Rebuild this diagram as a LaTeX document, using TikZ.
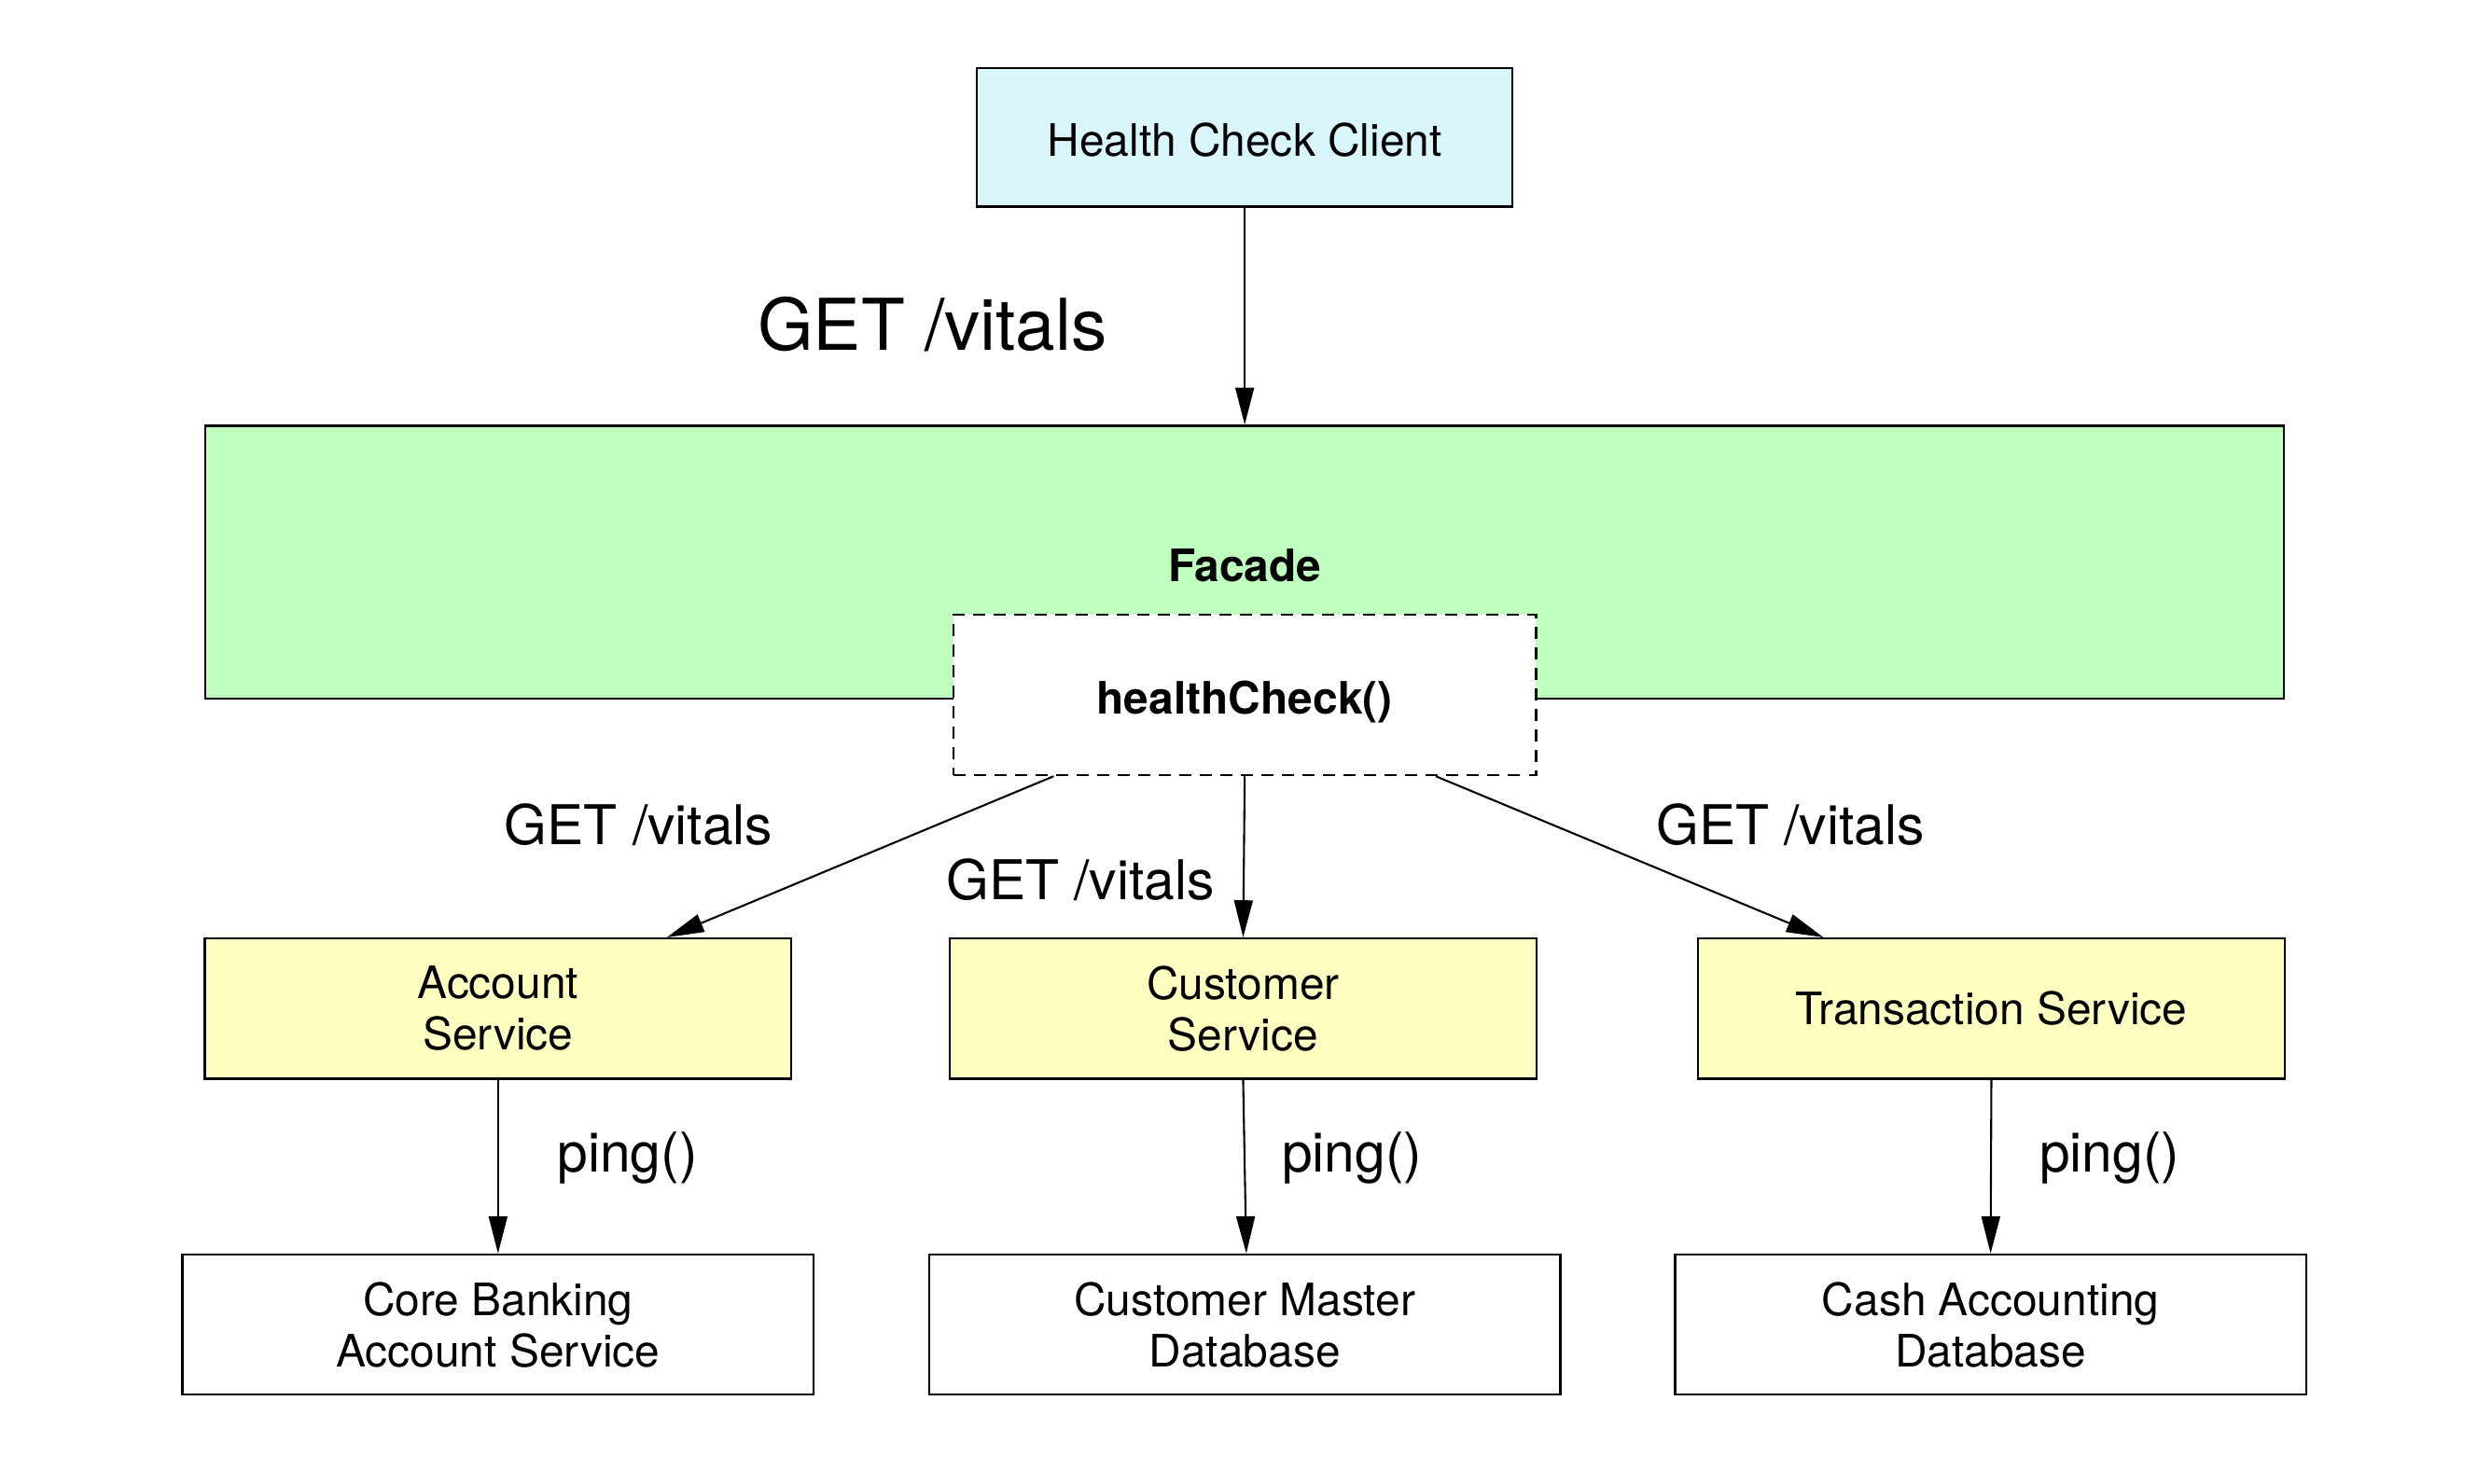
\documentclass[tikz,border=0pt]{standalone}
\usepackage{fontspec}
\setmainfont{TeX Gyre Heros}
\usetikzlibrary{arrows.meta}

\definecolor{clientblue}{HTML}{D9F6FD}
\definecolor{facadegreen}{HTML}{BFFFBF}
\definecolor{serviceyellow}{HTML}{FFFFC2}

\tikzset{
  box/.style={draw=black, line width=0.7pt, align=center, inner sep=0pt,
    font=\fontsize{13.7}{15.7}\selectfont},
  arr/.style={-{Triangle[length=0.4cm, width=0.2cm]}, line width=0.6pt},
  lbl/.style={inner sep=0pt, font=\fontsize{16.8}{19}\selectfont}
}

\begin{document}
\begin{tikzpicture}[x=0.017115cm, y=-0.017115cm]
\useasboundingbox (0,0) rectangle (1568,934);
\node[box, fill=clientblue, minimum width=5.77cm, minimum height=1.49cm] (client) at (783.5,86.5) {\raisebox{-0.03cm}[\height][\depth]{Health Check Client}};
\node[box, fill=facadegreen, minimum width=22.40cm, minimum height=2.94cm] (facade) at (783.5,354) {\raisebox{-0.035cm}[\height][\depth]{\textbf{Facade}}};
\node[box, fill=white, dash pattern=on 3.7pt off 2.6pt, minimum width=6.28cm, minimum height=1.73cm] (hc) at (783.5,437.5) {\raisebox{-0.08cm}[\height][\depth]{\textbf{healthCheck()}}};
%\draw (facade.south west) -- (facade.south east);
\node[box, fill=serviceyellow, minimum width=6.32cm, minimum height=1.51cm] (account) at (313.5,635) {Account\\Service};
\node[box, fill=serviceyellow, minimum width=6.32cm, minimum height=1.51cm] (customer) at (782.5,635) {Customer\\Service};
\node[box, fill=serviceyellow, minimum width=6.32cm, minimum height=1.51cm] (transaction) at (1253.5,635) {Transaction Service};
\node[box, minimum width=6.80cm, minimum height=1.51cm] (corebank) at (313.5,834) {Core Banking\\Account Service};
\node[box, minimum width=6.80cm, minimum height=1.51cm] (custmaster) at (783.5,834) {Customer Master\\Database};
\node[box, minimum width=6.80cm, minimum height=1.51cm] (cashacc) at (1253,834) {Cash Accounting\\Database};

\node[lbl, font=\fontsize{21.9}{25}\selectfont] (getclient) at (587,204) {GET /vitals};
\node[lbl] (getaccount) at (402,519) {GET /vitals};
\node[lbl] (getcustomer) at (680,554) {GET /vitals};
\node[lbl] (gettransaction) at (1127,519) {GET /vitals};
\node[lbl] (pingaccount) at (395,729) {ping()};
\node[lbl] (pingcustomer) at (851,729) {ping()};
\node[lbl] (pingtransaction) at (1328,729) {ping()};

\draw[arr] (client.south) -- (facade.north);
\draw[arr] ([xshift=-2.06cm]hc.south) -- ([xshift=1.82cm]account.north);
\draw[arr] (hc.south) -- (customer.north);
\draw[arr] ([xshift=2.06cm]hc.south) -- ([xshift=-1.81cm]transaction.north);
\draw[arr] (account.south) -- (corebank.north);
\draw[arr] (customer.south) -- ([xshift=0.017cm]custmaster.north);
\draw[arr] (transaction.south) -- (cashacc.north);
\end{tikzpicture}
\end{document}
